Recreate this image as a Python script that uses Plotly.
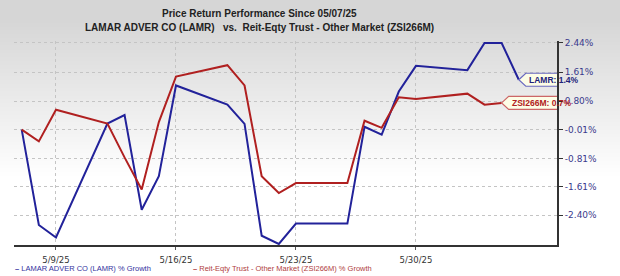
import plotly.graph_objects as go

dates = ["2025-05-07", "2025-05-08", "2025-05-09", "2025-05-12", "2025-05-13", "2025-05-14",
         "2025-05-15", "2025-05-16", "2025-05-19", "2025-05-20", "2025-05-21", "2025-05-22",
         "2025-05-23", "2025-05-26", "2025-05-27", "2025-05-28", "2025-05-29", "2025-05-30",
         "2025-06-02", "2025-06-03", "2025-06-04", "2025-06-05"]
lamr = [0.0, -2.68, -3.03, 0.17, 0.41, -2.25, -1.31, 1.24, 0.70, 0.16, -2.98, -3.21,
        -2.64, -2.64, 0.08, -0.14, 1.07, 1.79, 1.67, 2.43, 2.43, 1.40]
zsi = [0.0, -0.33, 0.56, 0.17, -0.78, -1.68, 0.21, 1.49, 1.81, 1.24, -1.31, -1.78,
       -1.50, -1.50, 0.25, 0.05, 0.91, 0.86, 1.01, 0.70, 0.75]
ytick_vals = [2.44, 1.61, 0.80, -0.01, -0.81, -1.61, -2.40]
ytick_text = ["2.44%", "1.61%", "0.80%", "-0.01%", "-0.81%", "-1.61%", "-2.40%"]
xtick_vals = ["2025-05-09", "2025-05-16", "2025-05-23", "2025-05-30"]
xtick_text = ["5/9/25", "5/16/25", "5/23/25", "5/30/25"]
lamr_name = "LAMAR ADVER CO (LAMR) % Growth"
zsi_name = "Reit-Eqty Trust - Other Market (ZSI266M) % Growth"
title1 = "Price Return Performance Since 05/07/25"
title2 = "LAMAR ADVER CO (LAMR)   vs.  Reit-Eqty Trust - Other Market (ZSI266M)"

BLUE = "#22229a"
RED = "#b02020"
SANS = "Liberation Sans, Arial, sans-serif"
TICKF = "DejaVu Sans, Verdana, sans-serif"

W, H = 620, 276
pl, pr, pt, pb = 14, 557, 38, 245   # plot-area pixel box


def px(xp):
    return xp / W


def py(yp):
    return 1 - yp / H


fig = go.Figure()

fig.add_trace(go.Scatter(x=dates[:len(lamr)], y=lamr, mode="lines", name=lamr_name,
                         line=dict(color=BLUE, width=2), hoverinfo="skip"))
fig.add_trace(go.Scatter(x=dates[:len(zsi)], y=zsi, mode="lines", name=zsi_name,
                         line=dict(color=RED, width=2), hoverinfo="skip"))

# background: grey at the top fading to white over the lower part of the figure
n_rows = 40
fade_top, fade_bot = 20, 175
for i in range(n_rows):
    c = int(round(214 + (255 - 214) * (i + 0.5) / n_rows))
    y_a = fade_top + (fade_bot - fade_top) * i / n_rows
    y_b = fade_top + (fade_bot - fade_top) * (i + 1) / n_rows + 0.7
    fig.add_shape(type="rect", xref="paper", yref="paper", layer="below",
                  x0=0, x1=1, y0=py(y_b), y1=py(y_a),
                  fillcolor="#%02x%02x%02x" % (c, c, c), line=dict(width=0))
fig.add_shape(type="rect", xref="paper", yref="paper", layer="below",
              x0=0, x1=1, y0=0, y1=py(fade_bot),
              fillcolor="#ffffff", line=dict(width=0))


# end-of-series tags
def tag(xa, ya, width, color, text, tcolor):
    fig.add_shape(type="path", xref="x", yref="y", xsizemode="pixel", ysizemode="pixel",
                  xanchor=xa, yanchor=ya,
                  path=f"M0,0 L7,6.5 L{width},6.5 L{width},-6.5 L7,-6.5 Z",
                  fillcolor="#fdfde6", line=dict(color=color, width=1.2))
    fig.add_annotation(x=xa, y=ya, xref="x", yref="y", text=f"<b>{text}</b>", showarrow=False,
                       xanchor="center", yanchor="middle", xshift=(width + 5) / 2,
                       font=dict(family=SANS, size=8.5, color=tcolor))


tag(dates[len(lamr) - 1], lamr[-1], 65, "#6a6ac0", "LAMR: 1.4%", "#22227a")
tag(dates[len(zsi) - 1], zsi[-1], 74, "#cc6666", "ZSI266M: 0.7%", "#b02020")

fig.add_annotation(x=px(259), y=py(11), xref="paper", yref="paper", xanchor="center",
                   yanchor="middle", text=f"<b>{title1}</b>", showarrow=False,
                   font=dict(family=SANS, size=10, color="#222222"))
fig.add_annotation(x=px(259), y=py(25), xref="paper", yref="paper", xanchor="center",
                   yanchor="middle", text=f"<b>{title2}</b>", showarrow=False,
                   font=dict(family=SANS, size=10, color="#222222"))

# legend rows
for xpix, col, txt in [(13, "#3333a0", lamr_name), (191, "#b04040", zsi_name)]:
    fig.add_annotation(x=px(xpix), y=py(268), xref="paper", yref="paper",
                       xanchor="left", yanchor="middle", showarrow=False,
                       text=f"<b>\u2013</b> {txt}", font=dict(family=SANS, size=7.5, color=col))

fig.update_layout(
    width=W, height=H, margin=dict(l=0, r=0, t=0, b=0),
    paper_bgcolor="#d6d6d6", plot_bgcolor="rgba(0,0,0,0)", showlegend=False,
    xaxis=dict(type="date", domain=[pl / W, pr / W], anchor="y",
               range=["2025-05-06 13:12", "2025-06-07 05:30"],
               tickvals=xtick_vals, ticktext=xtick_text, showgrid=True,
               gridcolor="#c4c4c4", griddash="dot", gridwidth=1,
               showline=True, linecolor="#333333", linewidth=2,
               ticks="outside", ticklen=3, tickcolor="#555555", ticklabelstandoff=2,
               tickfont=dict(family=TICKF, size=8.5, color="#333333"),
               zeroline=False, fixedrange=True),
    yaxis=dict(side="right", domain=[1 - pb / H, 1 - pt / H], anchor="x",
               range=[-3.25, 2.50], tickvals=ytick_vals, ticktext=ytick_text,
               showgrid=True, gridcolor="#c4c4c4", griddash="dot", gridwidth=1,
               showline=True, linecolor="#333333", linewidth=2,
               ticks="outside", ticklen=4, tickcolor="#333333",
               tickfont=dict(family=TICKF, size=9, color="#3a3a8c"),
               zeroline=False, fixedrange=True),
)

fig.write_html("out.html")
